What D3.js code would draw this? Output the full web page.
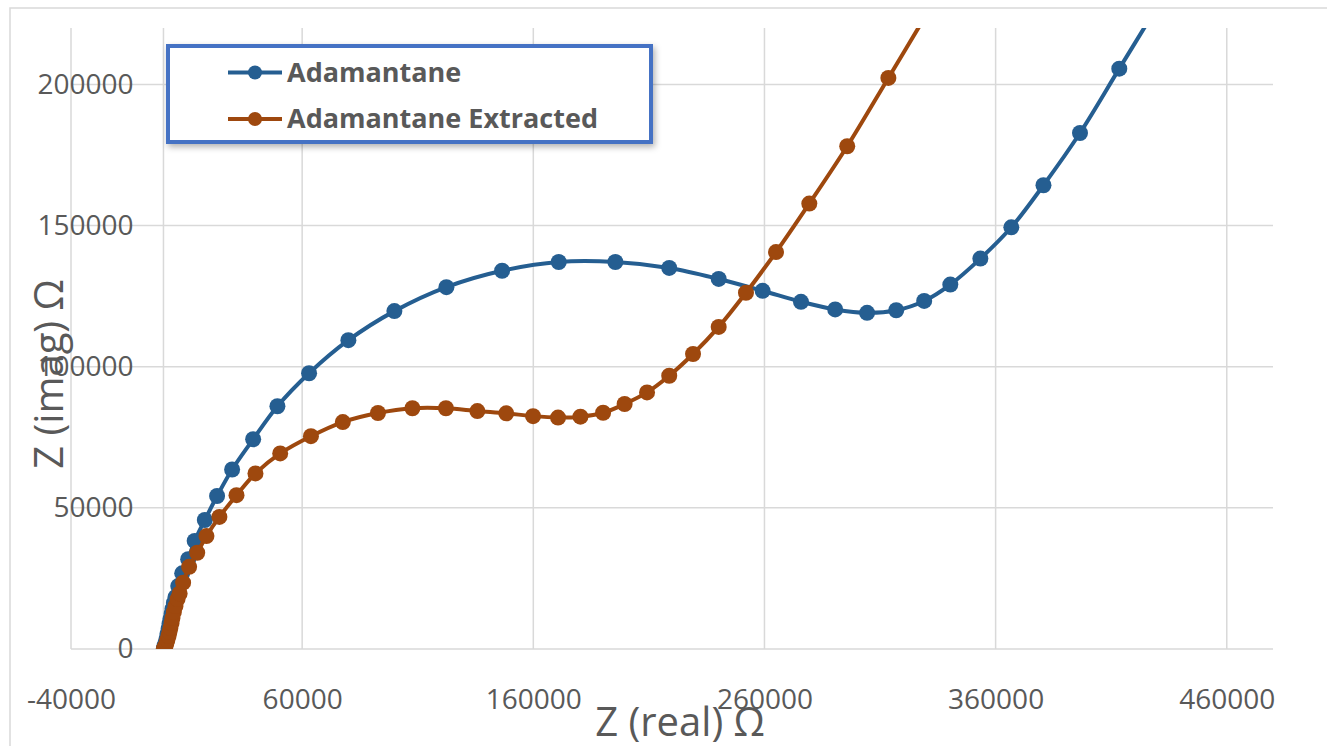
<!DOCTYPE html>
<html>
<head>
<meta charset="utf-8">
<script src="https://cdn.jsdelivr.net/npm/d3@7"></script>
<style>
    body { margin: 0; background: #fff; }
    svg { display: block; font-family: "Open Sans", sans-serif; }
</style>
</head>
<body>
<div id="chart"></div>
<script>
// series: [Z real, Z imag]
var adamantane = [
    [150, 0], [430, 1100], [870, 2100], [1300, 3500], [1700, 5300], [2200, 7100],
    [2600, 8900], [3000, 10600], [3500, 12400], [3900, 14200], [4500, 16300], [5200, 18400],
    [6400, 22300], [8100, 26800], [10700, 31800], [13500, 38300], [17900, 45700], [23200, 54200],
    [29700, 63600], [38800, 74300], [49300, 86000], [63000, 97700], [80000, 109400], [99900, 119700],
    [122400, 128200], [146500, 134000], [171000, 137100], [195500, 137100], [218800, 135000],
    [240200, 131100], [259200, 126900], [275800, 123000], [290600, 120300], [304400, 119100],
    [317000, 120000], [329100, 123300], [340400, 129100], [353400, 138300], [366800, 149400],
    [380700, 164300], [396500, 182800], [413500, 205600], [431000, 229000]
];

var extracted = [
    [150, 0], [430, 350], [870, 1100], [1300, 2100], [1700, 3200], [2200, 4600],
    [2600, 6000], [3000, 7400], [3500, 9200], [3900, 11000], [4500, 13100], [5200, 15200],
    [6100, 17700], [7000, 19700], [8500, 23500], [11100, 29100], [14600, 34100], [18600, 40000],
    [24200, 46800], [31600, 54500], [39800, 62200], [50500, 69300], [63800, 75400], [77600, 80400],
    [92800, 83600], [107700, 85300], [122200, 85300], [135800, 84300], [148300, 83500],
    [159900, 82500], [170700, 82000], [180400, 82300], [190200, 83700], [199500, 86800],
    [209200, 90900], [218800, 96800], [229100, 104500], [240200, 114100], [252000, 126200],
    [265000, 140600], [279400, 157800], [295800, 178100], [313600, 202300], [331700, 227000]
];

var seriesNames = ["Adamantane", "Adamantane Extracted"];
var seriesColors = ["#255E91", "#9E480E"];
var xTicks = [-40000, 60000, 160000, 260000, 360000, 460000];
var yTicks = [0, 50000, 100000, 150000, 200000];

var width = 1327,
    height = 746;

var x = d3.scaleLinear().domain([-40000, 480000]).range([71, 1273]);
var y = d3.scaleLinear().domain([0, 220000]).range([649, 28]);

// plain hyphen for negatives, like the original
var fmt = function(d) { return String(d); };

var svg = d3.select("#chart").append("svg")
    .attr("width", width)
    .attr("height", height);

var defs = svg.append("defs");
defs.append("clipPath").attr("id", "plot")
    .append("rect")
    .attr("x", x.range()[0]).attr("y", y.range()[1])
    .attr("width", x.range()[1] - x.range()[0])
    .attr("height", y.range()[0] - y.range()[1]);

var shadow = defs.append("filter").attr("id", "shadow")
    .attr("x", "-10%").attr("y", "-20%").attr("width", "120%").attr("height", "150%");
shadow.append("feDropShadow")
    .attr("dx", 2).attr("dy", 3).attr("stdDeviation", 3)
    .attr("flood-color", "#000").attr("flood-opacity", 0.3);

// chart area border
svg.append("rect")
    .attr("x", 10).attr("y", 8)
    .attr("width", 1340).attr("height", 760)
    .attr("fill", "none")
    .attr("stroke", "#d9d9d9")
    .attr("stroke-width", 1.5);

// gridlines
svg.append("g")
    .selectAll("line")
    .data(yTicks)
    .enter().append("line")
    .attr("x1", x.range()[0]).attr("x2", x.range()[1])
    .attr("y1", function(d) { return y(d); })
    .attr("y2", function(d) { return y(d); })
    .attr("stroke", "#d9d9d9")
    .attr("stroke-width", 1.5);

svg.append("g")
    .selectAll("line")
    .data(xTicks.concat([0]))
    .enter().append("line")
    .attr("y1", y.range()[0]).attr("y2", y.range()[1])
    .attr("x1", function(d) { return x(d); })
    .attr("x2", function(d) { return x(d); })
    .attr("stroke", "#d9d9d9")
    .attr("stroke-width", 1.5);

// tick labels (d3 axes with no domain / tick lines)
var xAxis = svg.append("g")
    .attr("transform", "translate(0," + y(0) + ")")
    .call(d3.axisBottom(x).tickValues(xTicks).tickSize(0).tickPadding(40).tickFormat(fmt));

var yAxis = svg.append("g")
    .attr("transform", "translate(" + x(0) + ",0)")
    .call(d3.axisLeft(y).tickValues(yTicks).tickSize(0).tickPadding(30).tickFormat(fmt));

[xAxis, yAxis].forEach(function(a) {
    a.select(".domain").remove();
    a.selectAll("text")
        .attr("fill", "#595959")
        .style("font-size", "28px")
        .style("font-family", "'Open Sans', sans-serif");
});

// series
var line = d3.line()
    .x(function(d) { return x(d[0]); })
    .y(function(d) { return y(d[1]); })
    .curve(d3.curveCatmullRom.alpha(0.5));

var plot = svg.append("g").attr("clip-path", "url(#plot)");

[adamantane, extracted].forEach(function(data, i) {
    var g = plot.append("g");
    g.append("path")
        .datum(data)
        .attr("d", line)
        .attr("fill", "none")
        .attr("stroke", seriesColors[i])
        .attr("stroke-width", 4);
    g.selectAll("circle")
        .data(data)
        .enter().append("circle")
        .attr("cx", function(d) { return x(d[0]); })
        .attr("cy", function(d) { return y(d[1]); })
        .attr("r", 8)
        .attr("fill", seriesColors[i]);
});

// axis titles
svg.append("text")
    .attr("x", 680).attr("y", 736)
    .attr("text-anchor", "middle")
    .attr("fill", "#595959")
    .style("font-size", "40px")
    .text("Z (real) Ω");

svg.append("text")
    .attr("transform", "translate(63,374) rotate(-90)")
    .attr("text-anchor", "middle")
    .attr("fill", "#595959")
    .style("font-size", "40px")
    .text("Z (imag) Ω");

// legend
var legend = svg.append("g");
legend.append("rect")
    .attr("x", 168).attr("y", 46)
    .attr("width", 483).attr("height", 96)
    .attr("fill", "#fff")
    .attr("stroke", "#4472C4")
    .attr("stroke-width", 4)
    .attr("filter", "url(#shadow)");

var item = legend.selectAll(".item")
    .data(seriesNames)
    .enter().append("g")
    .attr("class", "item")
    .attr("transform", function(d, i) { return "translate(0," + (72.5 + i * 46.5) + ")"; });

item.append("line")
    .attr("x1", 228).attr("x2", 282)
    .attr("stroke", function(d, i) { return seriesColors[i]; })
    .attr("stroke-width", 4);
item.append("circle")
    .attr("cx", 255)
    .attr("r", 7)
    .attr("fill", function(d, i) { return seriesColors[i]; });
item.append("text")
    .attr("x", 287).attr("dy", "0.35em")
    .attr("fill", "#595959")
    .style("font-size", "27px")
    .style("font-weight", "bold")
    .text(function(d) { return d; });
</script>
</body>
</html>
